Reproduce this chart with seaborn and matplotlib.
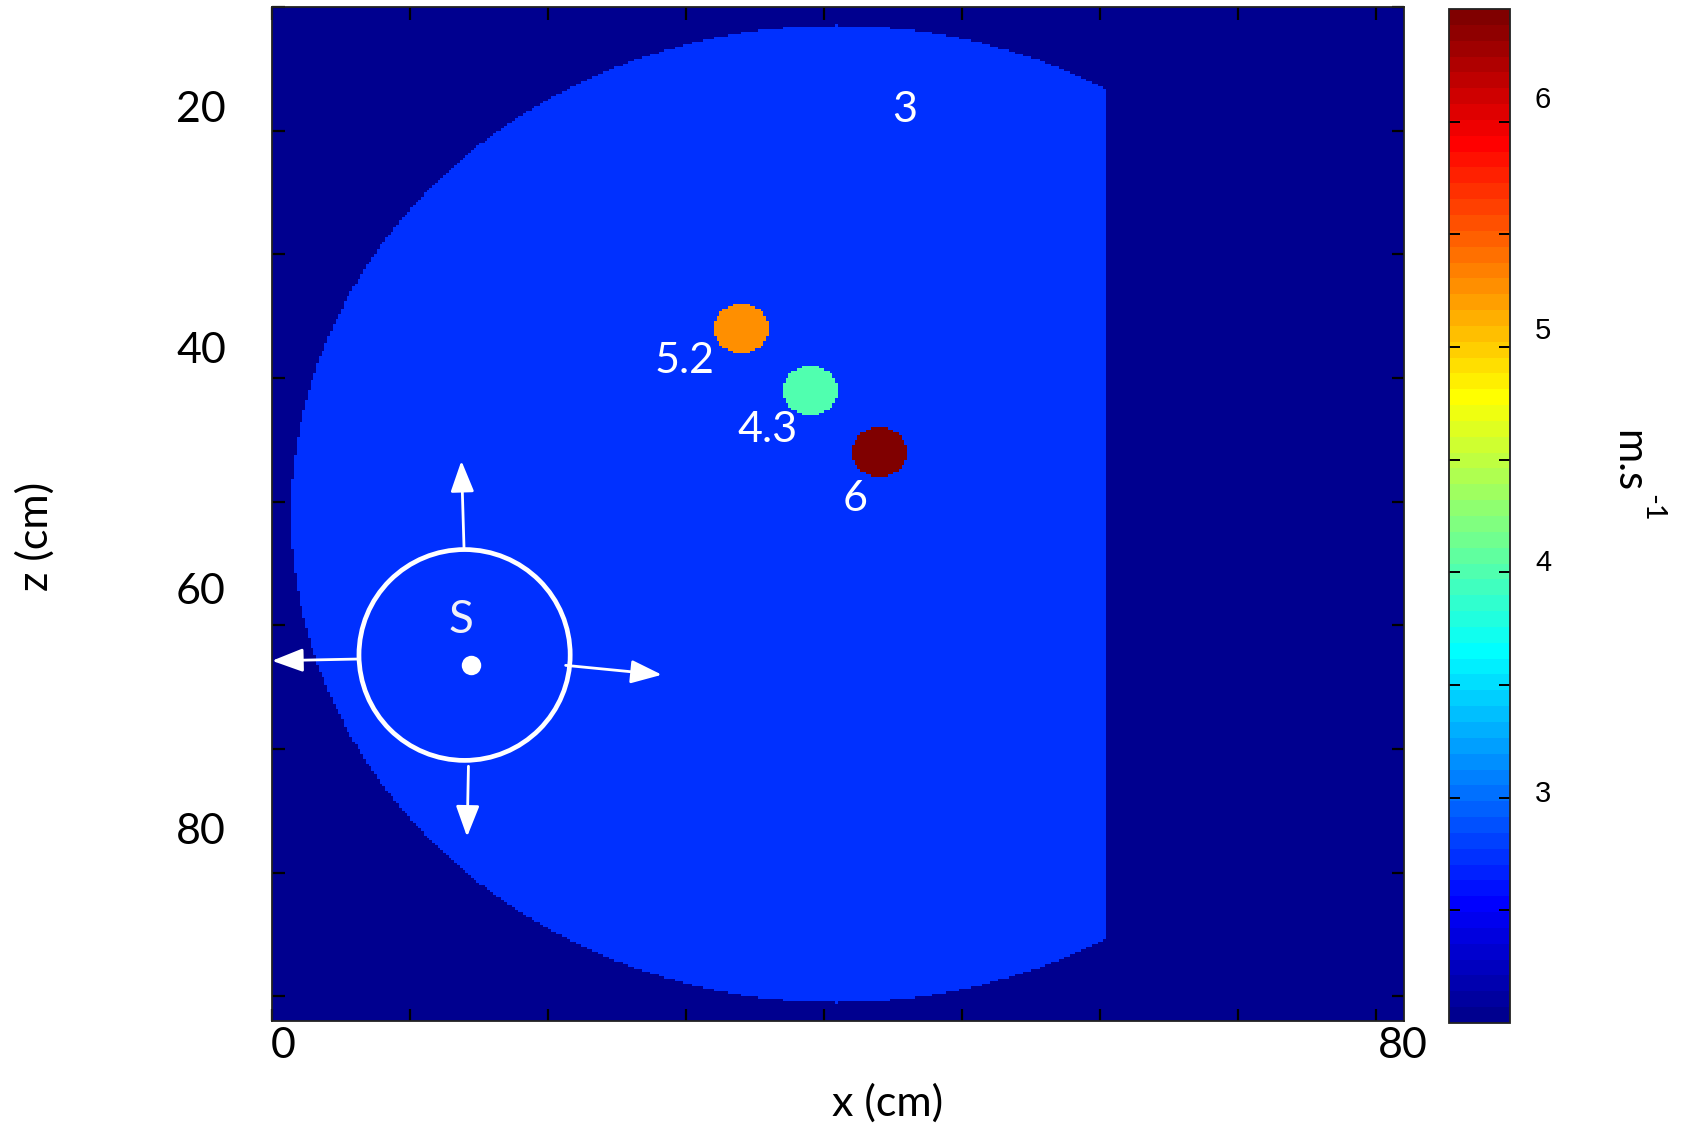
import numpy as np
import pandas as pd
import matplotlib
matplotlib.use("Agg")
import matplotlib.pyplot as plt
import matplotlib.transforms as mtransforms
from matplotlib.colors import ListedColormap
from matplotlib.patches import Ellipse, FancyArrowPatch, ArrowStyle
import seaborn as sns

# ---------------- data ----------------
x_range_cm = [0.0, 82.0]          # horizontal extent of the model
z_range_cm = [10.0, 92.0]         # depth extent of the model
cell_cm = 0.2                     # grid spacing

background_velocity = 2.0         # outside the half-disc (minimum of the scale)
zone_velocity = 2.72              # main medium (annotated "3")
zone_center_x, zone_center_z = 40.9, 51.0
zone_radius = 39.5
zone_x_max = 60.4                 # medium truncated by a vertical face

inclusion_x = [34.0, 39.0, 44.0]
inclusion_z = [36.0, 41.0, 46.0]
inclusion_r = [2.0, 2.0, 2.0]
inclusion_velocity = [5.2, 3.95, 6.38]

label_texts = ["3", "5.2", "4.3", "6"]
label_x = [45.8, 29.9, 35.9, 42.25]
label_z = [18.3, 38.6, 44.2, 49.8]

source_x, source_z = 14.4, 63.2
source_ring_x, source_ring_z = 13.95, 62.4
source_ring_w, source_ring_h = 15.3, 17.05
source_label_x, source_label_z = 13.72, 59.6

arrow_start_x = [13.91, 6.18, 21.27, 14.23]
arrow_start_z = [53.75, 62.73, 63.24, 71.4]
arrow_end_x = [13.72, 0.0, 28.24, 14.13]
arrow_end_z = [46.7, 62.87, 64.0, 77.1]

x_tick_values = list(range(0, 81, 10))
z_tick_values = list(range(10, 91, 10))
x_tick_labels = ["0", "80"]
x_tick_label_values = [0, 80]
z_tick_labels = ["20", "40", "60", "80"]
z_tick_label_values = [20, 40, 60, 80]

vmin, vmax = 2.0, 6.38
cbar_tick_values = [3, 4, 5, 6]
cbar_tick_labels = ["3", "4", "5", "6"]


# ---------------- MATLAB jet(64) ----------------
def matlab_jet(m=64):
    n = int(np.ceil(m / 4))
    u = np.concatenate([np.arange(1, n + 1) / n, np.ones(n - 1), np.arange(n, 0, -1) / n])
    g = int(np.ceil(n / 2)) - (1 if m % 4 == 1 else 0) + np.arange(1, len(u) + 1)
    r = g + n
    b = g - n
    J = np.zeros((m, 3))
    k = r <= m
    J[r[k] - 1, 0] = u[k]
    k = (g >= 1) & (g <= m)
    J[g[k] - 1, 1] = u[k]
    k = b >= 1
    J[b[k] - 1, 2] = u[k]
    return ListedColormap(J)


cmap = matlab_jet(64)

# ---------------- build the velocity grid ----------------
nx = int(round((x_range_cm[1] - x_range_cm[0]) / cell_cm))
nz = int(round((z_range_cm[1] - z_range_cm[0]) / cell_cm))
xc = x_range_cm[0] + (np.arange(nx) + 0.5) * cell_cm
zc = z_range_cm[0] + (np.arange(nz) + 0.5) * cell_cm
X, Z = np.meshgrid(xc, zc)
V = np.full(X.shape, background_velocity)
zone = ((X - zone_center_x) ** 2 + (Z - zone_center_z) ** 2 <= zone_radius ** 2) & (X <= zone_x_max)
V[zone] = zone_velocity
for cx, cz, r, v in zip(inclusion_x, inclusion_z, inclusion_r, inclusion_velocity):
    V[(X - cx) ** 2 + (Z - cz) ** 2 <= r ** 2] = v

df = pd.DataFrame(V, index=np.round(zc, 2), columns=np.round(xc, 2))


def fx(x):
    return (np.asarray(x) - x_range_cm[0]) / cell_cm


def fz(z):
    return (np.asarray(z) - z_range_cm[0]) / cell_cm


# ---------------- figure ----------------
plt.rcParams["font.family"] = ["Lato", "DejaVu Sans"]
plt.rcParams["xtick.top"] = True
plt.rcParams["xtick.bottom"] = True
plt.rcParams["ytick.left"] = True
plt.rcParams["ytick.right"] = True

W, H = 1682, 1127
fig = plt.figure(figsize=(W / 100, H / 100), dpi=100)
ax = fig.add_axes([272 / W, 1 - 1021 / H, (1404 - 272) / W, (1021 - 7) / H])
cax = fig.add_axes([1449 / W, 1 - 1023 / H, (1510 - 1449) / W, (1023 - 9) / H])

sns.heatmap(df, cmap=cmap, vmin=vmin, vmax=vmax, ax=ax, cbar_ax=cax,
            xticklabels=False, yticklabels=False, rasterized=True)

for s in ax.spines.values():
    s.set_visible(True)
    s.set_color("#222222")
    s.set_linewidth(1.3)

ax.set_xticks(fx(x_tick_values))
ax.set_yticks(fz(z_tick_values))
ax.set_xlabel("")
ax.set_ylabel("")
ax.tick_params(axis="both", which="major", direction="in", length=9, width=1.6,
               color="black", top=True, bottom=True, left=True, right=True,
               labelbottom=False, labelleft=False, labeltop=False, labelright=False)

# tick labels (placed like the reference, a little off the tick marks)
tx = mtransforms.blended_transform_factory(ax.transData, ax.transAxes)
ty = mtransforms.blended_transform_factory(ax.transAxes, ax.transData)
for lab, val in zip(x_tick_labels, x_tick_label_values):
    ax.annotate(lab, xy=(fx(val), 0), xycoords=tx, xytext=(11 + 15 * val / 80, -25),
                textcoords="offset pixels", ha="center", va="center",
                fontsize=31, color="black", annotation_clip=False)
for lab, val in zip(z_tick_labels, z_tick_label_values):
    ax.annotate(lab, xy=(0, fz(val)), xycoords=ty, xytext=(-71, 20.5 + 0.33 * (val - 20)),
                textcoords="offset pixels", ha="center", va="center",
                fontsize=31, color="black", annotation_clip=False)

fig.text(888 / W, 1 - 1103 / H, "x (cm)", ha="center", va="center", fontsize=31)
fig.text(35 / W, 1 - 536 / H, "z (cm)", ha="center", va="center", fontsize=31, rotation=90)

# annotations of the velocities
for t, x, z in zip(label_texts, label_x, label_z):
    ax.text(fx(x), fz(z), t, color="white", fontsize=31, ha="center", va="center")

# source: ring, dot, label and radiating arrows
ax.add_patch(Ellipse((fx(source_ring_x), fz(source_ring_z)),
                     width=source_ring_w / cell_cm, height=source_ring_h / cell_cm,
                     fill=False, edgecolor="white", linewidth=3.4))
ax.plot([fx(source_x)], [fz(source_z)], "o", color="white", markersize=14, markeredgewidth=0)
ax.text(fx(source_label_x), fz(source_label_z), "S", color="#F0F0F8", fontsize=33,
        ha="center", va="center")
style = ArrowStyle("-|>", head_length=0.95, head_width=0.36)
for x0, z0, x1, z1 in zip(arrow_start_x, arrow_start_z, arrow_end_x, arrow_end_z):
    ax.add_patch(FancyArrowPatch((fx(x0), fz(z0)), (fx(x1), fz(z1)),
                                 arrowstyle=style, mutation_scale=20, color="white",
                                 linewidth=2.0, shrinkA=0, shrinkB=0, clip_on=False))

# colorbar
cbar = ax.collections[0].colorbar
cbar.set_ticks(cbar_tick_values)
cbar.set_ticklabels(cbar_tick_labels)
cbar.set_ticks([vmin + (vmax - vmin) * k / 9 for k in range(1, 9)], minor=True)
cbar.outline.set_visible(True)
cbar.outline.set_edgecolor("#222222")
cbar.outline.set_linewidth(1.3)
cax.tick_params(which="major", length=0, labelsize=21, pad=18, left=False, right=True)
cax.tick_params(which="minor", direction="in", length=8, width=1.4, color="black",
                left=True, right=True)
for lbl in cax.get_yticklabels():
    lbl.set_fontfamily(["Liberation Sans", "DejaVu Sans"])
fig.text(1628 / W, 1 - 461 / H, "m.s", ha="center", va="center",
         fontsize=30, rotation=270)
fig.text(1652 / W, 1 - 508 / H, "-1", ha="center", va="center",
         fontsize=21, rotation=270)

fig.savefig("out.png", dpi=100)
